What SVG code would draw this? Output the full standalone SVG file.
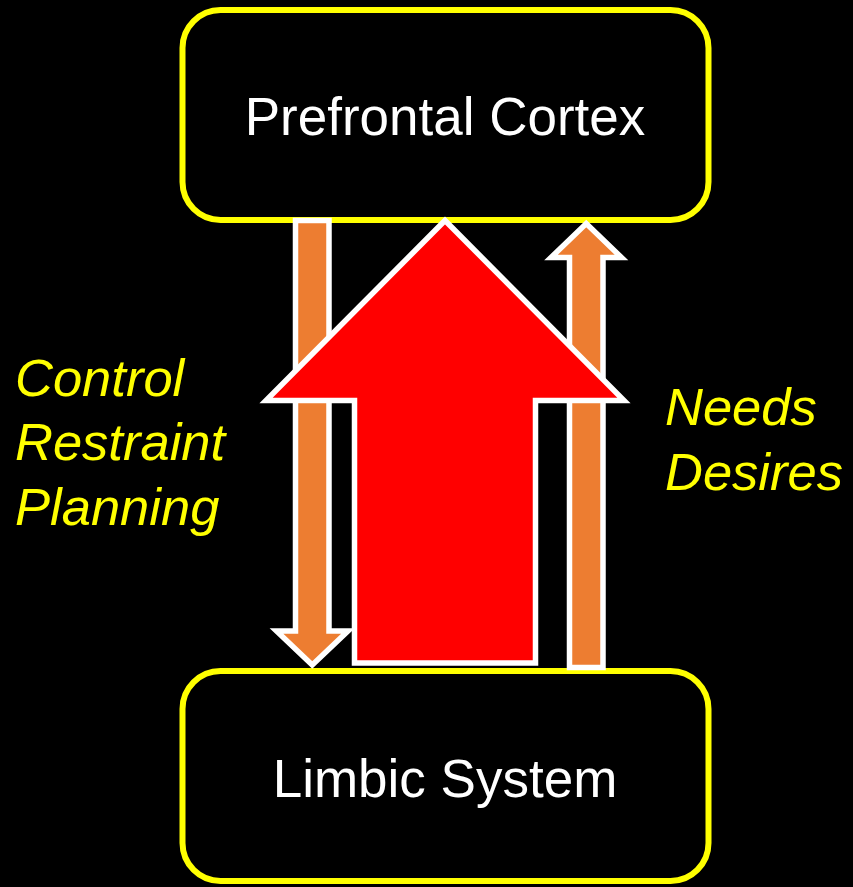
<svg xmlns="http://www.w3.org/2000/svg" width="853" height="887" viewBox="0 0 853 887">
  <style>
    .box { fill: #000000; stroke: #FFFF00; stroke-width: 6; }
    .node-label { font-family: "Liberation Sans", Arial, sans-serif; font-size: 53px; fill: #FFFFFF; text-anchor: middle; }
    .side-label { font-family: "Liberation Sans", Arial, sans-serif; font-size: 52.5px; font-style: italic; fill: #FFFF00; }
    .thin-arrow { fill: #ED7D31; stroke: #FFFFFF; stroke-width: 5.5; stroke-linejoin: miter; }
    .big-arrow { fill: #FF0000; stroke: #FFFFFF; stroke-width: 5.5; stroke-linejoin: miter; }
  </style>
  <rect width="853" height="887" fill="#000000"/>

  <g id="prefrontal-cortex">
    <rect class="box" x="182.5" y="10" width="526" height="210" rx="38" ry="38"/>
    <text class="node-label" x="445" y="135">Prefrontal Cortex</text>
  </g>

  <g id="limbic-system">
    <rect class="box" x="182.5" y="671" width="526" height="210" rx="38" ry="38"/>
    <text class="node-label" x="445" y="797">Limbic System</text>
  </g>

  <g id="connectors">
    <!-- top-down: control from the cortex -->
    <polygon class="thin-arrow" points="295.5,220.5 329,220.5 329,631 348,631 312.25,665 276.5,631 295.5,631"/>
    <!-- bottom-up: needs from the limbic system -->
    <polygon class="thin-arrow" points="569.5,667.5 603,667.5 603,257.5 621.5,257.5 586.25,223.5 551,257.5 569.5,257.5"/>
    <!-- dominant bottom-up drive -->
    <polygon class="big-arrow" points="354.5,663 535.5,663 535.5,400.5 624,400.5 445,220.5 266,400.5 354.5,400.5"/>
  </g>

  <g id="control-labels">
    <text class="side-label" x="15" y="396">Control</text>
    <text class="side-label" x="15" y="460">Restraint</text>
    <text class="side-label" x="15" y="525">Planning</text>
  </g>

  <g id="needs-labels">
    <text class="side-label" x="665" y="425">Needs</text>
    <text class="side-label" x="665" y="490">Desires</text>
  </g>
</svg>
